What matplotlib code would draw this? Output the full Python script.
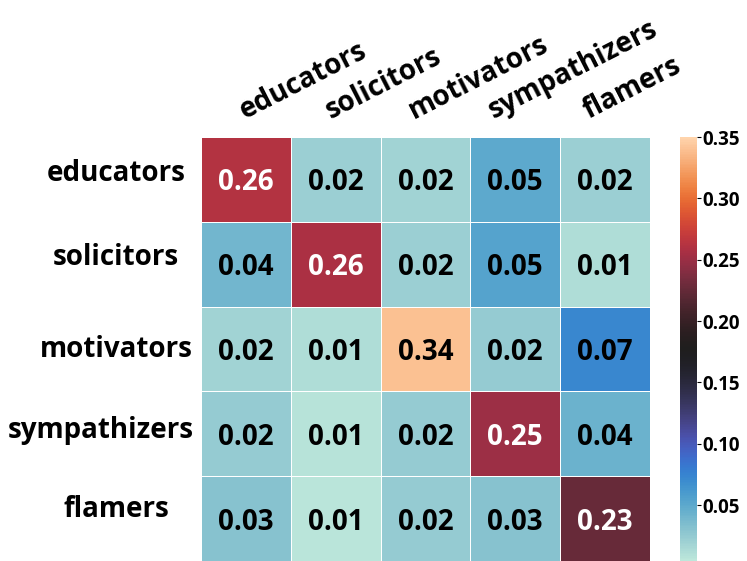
import numpy as np
import matplotlib
matplotlib.use("Agg")
import matplotlib.pyplot as plt
import matplotlib.transforms as mtransforms
import seaborn as sns

roles = ["educators", "solicitors", "motivators", "sympathizers", "flamers"]

# one list per row (from role -> to role)
educators_row = [0.262, 0.022, 0.018, 0.050, 0.021]
solicitors_row = [0.040, 0.258, 0.022, 0.054, 0.012]
motivators_row = [0.018, 0.012, 0.340, 0.024, 0.072]
sympathizers_row = [0.024, 0.008, 0.024, 0.251, 0.043]
flamers_row = [0.031, 0.007, 0.024, 0.031, 0.227]

matrix = np.array([educators_row, solicitors_row, motivators_row,
                   sympathizers_row, flamers_row])

plt.rcParams['font.family'] = ['Open Sans', 'DejaVu Sans']
plt.rcParams['font.weight'] = 'bold'

fig = plt.figure(figsize=(7.47, 5.61), dpi=100)
ax = fig.add_axes([201 / 747, 0, 449 / 747, 424 / 561])
cax = fig.add_axes([680 / 747, 0, 17 / 747, 424 / 561])

sns.heatmap(matrix, ax=ax, cbar_ax=cax, cmap='icefire', vmin=0.0045, vmax=0.35,
            annot=True, fmt='.2f', annot_kws={'size': 20, 'weight': 'bold'},
            linewidths=0.7, linecolor='white',
            xticklabels=roles, yticklabels=roles)


def shift(artist, dx, dy):
    # move a text by pixels (dy positive = down)
    artist.set_transform(artist.get_transform() +
                         mtransforms.ScaledTranslation(dx / 100, -dy / 100, fig.dpi_scale_trans))


# only the dark red cells get white numbers
for txt in ax.texts:
    v = float(txt.get_text())
    txt.set_color('white' if 0.12 < v < 0.3 else 'black')
    txt.set_va('baseline')
    shift(txt, 0, 11)

ax.xaxis.tick_top()
ax.tick_params(axis='x', length=0, pad=13)
ax.tick_params(axis='y', length=0, pad=61)

# x labels: rotated, shifted a bit per label like the original
x_shift = [-1, -5, -12, -22, -17]
for lab, dx in zip(ax.get_xticklabels(), x_shift):
    lab.set_fontsize(20)
    lab.set_fontweight('bold')
    lab.set_rotation(27)
    lab.set_rotation_mode('anchor')
    lab.set_ha('left')
    lab.set_va('baseline')
    shift(lab, dx, 0)

y_dx = [0, 0, 0, -16, 0]
y_dy = [1.5, 0.5, 7.5, 4.5, -1.5]
for lab, dx, dy in zip(ax.get_yticklabels(), y_dx, y_dy):
    lab.set_fontsize(20)
    lab.set_fontweight('bold')
    lab.set_rotation(0)
    lab.set_ha('center')
    lab.set_va('baseline')
    shift(lab, dx, dy)

cbar = ax.collections[0].colorbar
cbar.set_ticks([0.05, 0.10, 0.15, 0.20, 0.25, 0.30, 0.35])
cbar.ax.tick_params(labelsize=13.5, length=3, pad=1)
for t in cbar.ax.get_yticklabels():
    t.set_fontweight('bold')
cbar.outline.set_visible(False)

fig.savefig("out.png", dpi=100)
